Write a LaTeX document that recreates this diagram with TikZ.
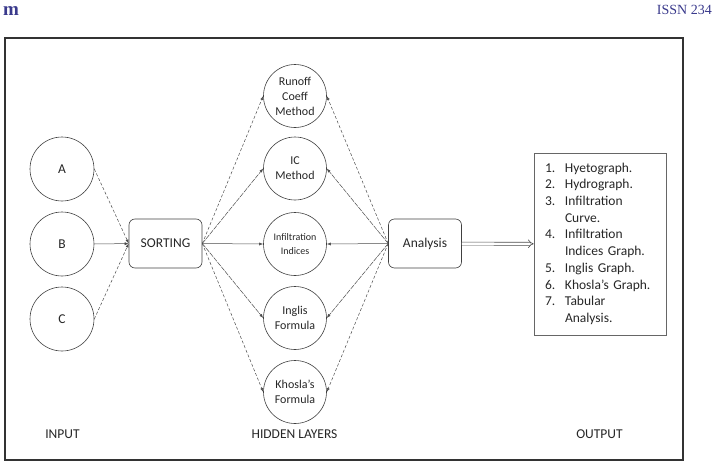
\documentclass[tikz,border=0pt]{standalone}
\usepackage{fontspec}
\setmainfont{Carlito}
\newfontfamily\hdrfont{Liberation Serif}
\usetikzlibrary{arrows.meta}
\definecolor{hdrblue}{RGB}{58,58,140}

\begin{document}
\begin{tikzpicture}[x=1pt,y=-1pt,
      every node/.style={text=black!85,font=\fontsize{13.5}{16}\selectfont},
      inp/.style={circle,draw=black!75,line width=0.6pt,minimum size=64pt,inner sep=0pt},
      hid/.style={circle,draw=black!75,line width=0.6pt,minimum size=63pt,inner sep=0pt,align=center},
      rbox/.style={draw=black!75,line width=0.6pt,rounded corners=6pt,minimum width=73pt,minimum height=49pt},
      link/.style={line width=0.5pt,draw=black!70,-{Latex[length=4pt,width=3pt]}},
      dlink/.style={link,dash pattern=on 3pt off 2pt},
      ddlink/.style={link,dash pattern=on 5pt off 1pt}]
      \useasboundingbox (0,0) rectangle (713,466);
      % page header
      \node[anchor=base west,inner sep=0pt,font=\hdrfont\bfseries\fontsize{19}{19}\selectfont,text=hdrblue] (jnl) at (3,15) {m};
      \node[anchor=base east,inner sep=0pt,font=\hdrfont\fontsize{14}{15}\selectfont,text=hdrblue] (issn) at (712,14) {ISSN 234};
      \draw[line width=1.3pt,black!80] (5,38) rectangle (683,460);
      % input layer
      \foreach \y/\name in {169/A,244/B,319/C} {
        \node[inp] (\name) at (62,\y) {\name};
      }
      \node[rbox] (sort) at (165.5,243.5) {SORTING};
      % hidden layers
      \foreach \y/\name/\fs/\ls/\txt in {96/runoff/12/15/{Runoff\\Coeff\\Method},
          168.5/ic/12/15/{IC\\Method},244/infil/10/13.3/{Infiltration\\Indices},
          318/inglis/12/15.5/{Inglis\\Formula},392/khosla/12/15.5/{Khosla's\\Formula}} {
        \node[hid,font=\fontsize{\fs}{\ls}\selectfont] (\name) at (295,\y) {\txt};
      }
      \node[rbox] (anl) at (425,243.5) {Analysis};
      % output
      \node[draw=black!60,line width=0.6pt,text width=110pt,inner xsep=11pt,inner ysep=0pt,
        minimum height=182pt,align=left,font=\fontsize{13.5}{16.7}\selectfont] (out) at (600,244)
        {\begin{tabular}{@{}p{20pt}@{}l@{}}
          1. & Hyetograph.\\
          2. & Hydrograph.\\
          3. & Infiltration\\
             & Curve.\\
          4. & Infiltration\\
             & Indices Graph.\\
          5. & Inglis Graph.\\
          6. & Khosla's Graph.\\
          7. & Tabular\\
             & Analysis.
        \end{tabular}};
      % connectors
      \foreach \name in {A,C} {
        \draw[dlink] (\name.east) -- (sort.west);
      }
      \draw[link] (B) -- (sort);
      \foreach \name/\sty in {runoff/dlink,ic/ddlink,infil/link,inglis/ddlink,khosla/dlink} {
        \draw[\sty] (sort.east) -- (\name.west);
        \draw[\sty] (anl.west) -- (\name.east);
      }
      \draw[double,double distance=2.4pt,line width=0.6pt,black!70,-{Implies}] (anl) -- (out);
      % layer captions
      \foreach \x/\name/\label in {62.5/cin/INPUT,294.5/chid/HIDDEN LAYERS,599.5/cout/OUTPUT} {
        \node (\name) at (\x,434) {\label};
      }
    \end{tikzpicture}
\end{document}
